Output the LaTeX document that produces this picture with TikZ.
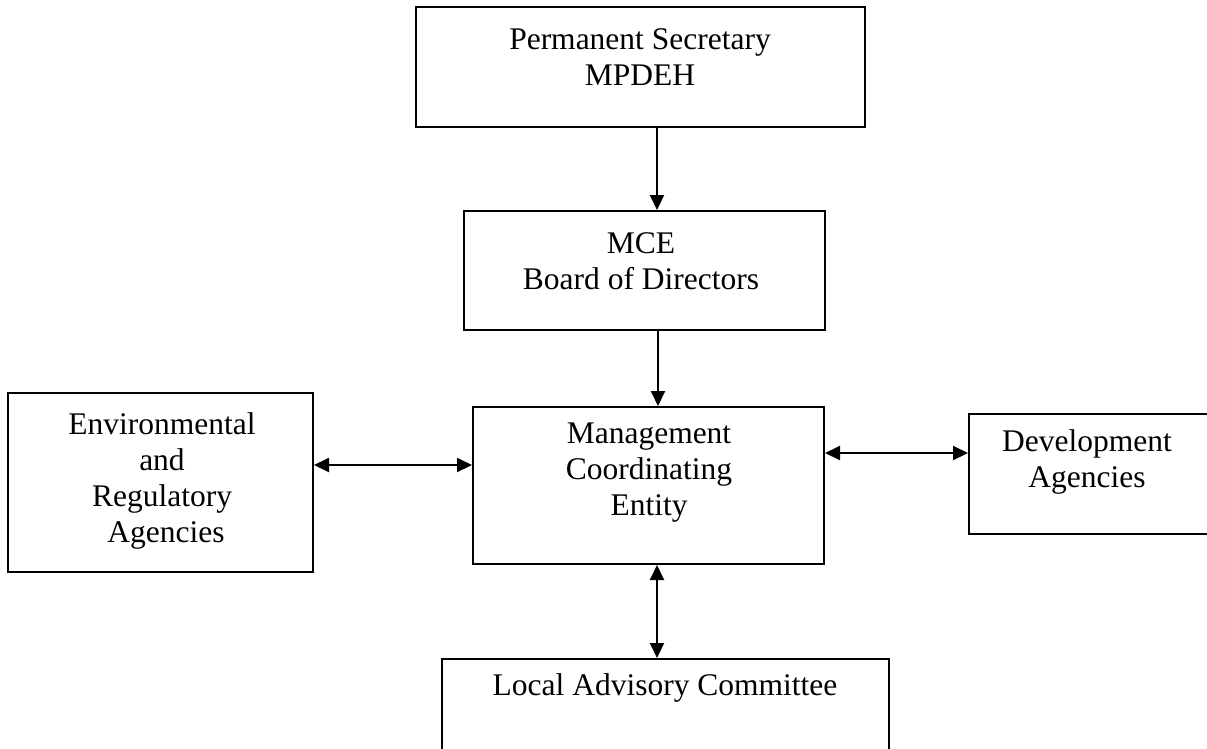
\documentclass[tikz,border=0pt]{standalone}
\usepackage{fontspec}
\setmainfont{Liberation Serif}
\usetikzlibrary{arrows.meta}
\tikzset{
  box/.style={draw=black, line width=2pt, fill=white, inner sep=0pt},
  txt/.style={align=center, inner sep=0pt, font=\fontsize{31.5}{36}\selectfont},
  conn/.style={line width=2pt, -{Triangle[length=15pt,width=14pt]}},
  biconn/.style={line width=2pt, {Triangle[length=15pt,width=14pt]}-{Triangle[length=15pt,width=14pt]}}
}
\begin{document}
\begin{tikzpicture}[x=1pt,y=-1pt]
\useasboundingbox[fill=white] (0,0) rectangle (1207,748);
% boxes
\node[box, minimum width=449pt, minimum height=120pt] (ps) at (640.5,67) {};
\node[box, minimum width=361pt, minimum height=119pt] (mce) at (644.5,270.5) {};
\node[box, minimum width=351pt, minimum height=157pt] (mgmt) at (648.5,485.5) {};
\node[box, minimum width=305pt, minimum height=179pt] (env) at (160.5,482.5) {};
\node[box, minimum width=241pt, minimum height=120pt] (dev) at (1089.5,474) {};
\node[box, minimum width=447pt, minimum height=94pt] (lac) at (665.5,706) {};
% texts
\node[txt] (pst) at (640,57) {Permanent Secretary\\MPDEH};
\node[txt] (mcet) at (641,261) {MCE\\Board of Directors};
\node[txt] (mgmtt) at (649,473) {Management\\Coordinating\\Entity};
\node[txt] (envt) at (162,481) {Environmental\\and\\Regulatory\\\ Agencies};
\node[txt] (devt) at (1087,462) {Development\\Agencies};
\node[txt] (lact) at (665,688) {Local Advisory Committee};
% connectors
\draw[conn] (ps.south -| 657,0) -- (mce.north -| 657,0);
\draw[conn] (mce.south -| 658,0) -- (mgmt.north -| 658,0);
\draw[biconn] (env.east |- 0,465) -- (mgmt.west |- 0,465);
\draw[biconn] (mgmt.east |- 0,453) -- (dev.west |- 0,453);
\draw[biconn] (mgmt.south -| 657,0) -- (lac.north -| 657,0);
\end{tikzpicture}
\end{document}
